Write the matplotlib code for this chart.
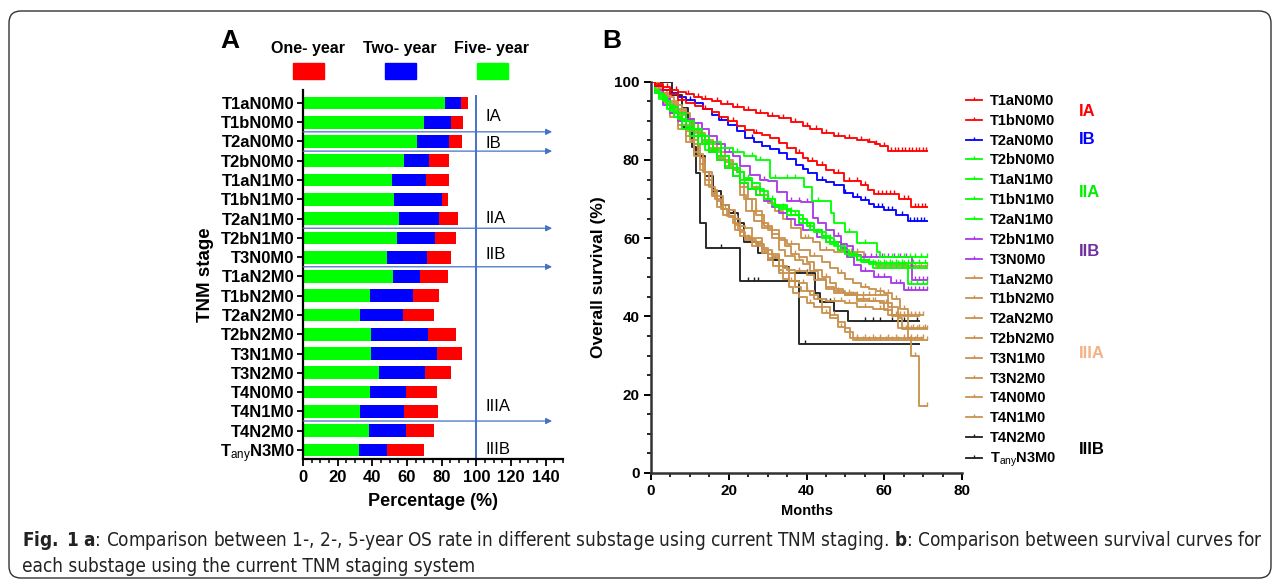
import numpy as np
import matplotlib
matplotlib.use("Agg")
import matplotlib.pyplot as plt
from matplotlib.path import Path
from matplotlib.lines import Line2D
from matplotlib.patches import Rectangle, FancyBboxPatch

plt.rcParams['font.family'] = ['Liberation Sans', 'DejaVu Sans']
plt.rcParams['mathtext.fontset'] = 'custom'
plt.rcParams['mathtext.rm'] = 'Liberation Sans'
plt.rcParams['mathtext.it'] = 'Liberation Sans:italic'
plt.rcParams['mathtext.bf'] = 'Liberation Sans:bold'
plt.rcParams['mathtext.sf'] = 'DejaVu Sans:weight=bold:stretch=condensed'

# ---------------- panel A data (percent) ----------------
stages = ['T1aN0M0', 'T1bN0M0', 'T2aN0M0', 'T2bN0M0', 'T1aN1M0', 'T1bN1M0', 'T2aN1M0',
          'T2bN1M0', 'T3N0M0', 'T1aN2M0', 'T1bN2M0', 'T2aN2M0', 'T2bN2M0', 'T3N1M0',
          'T3N2M0', 'T4N0M0', 'T4N1M0', 'T4N2M0', r'$\mathbf{T}_{\mathrm{any}}\mathbf{N3M0}$']
one_year = [95.4, 92.1, 91.7, 84.4, 84.2, 83.8, 89.2, 88.0, 85.4, 83.8,
            78.6, 75.3, 88.4, 91.5, 85.2, 77.5, 77.8, 75.5, 69.9]
two_year = [91.1, 85.4, 84.4, 72.8, 71.1, 80.2, 78.6, 76.1, 71.5, 67.4,
            63.2, 57.6, 71.9, 77.3, 70.5, 59.2, 58.0, 59.2, 48.7]
five_year = [81.9, 70.0, 65.9, 58.0, 51.3, 52.4, 55.1, 54.1, 48.4, 52.0,
             38.9, 33.1, 39.1, 39.1, 44.1, 38.7, 33.1, 38.2, 32.4]
stage_groups = ['IA', 'IB', 'IIA', 'IIB', 'IIIA', 'IIIB']
group_rows = [0.71, 2.09, 6.02, 7.88, 15.75, 18.0]
group_breaks = [1, 2, 6, 8, 16]   # arrows drawn after these rows

# ---------------- panel B data: KM steps (months, % survival) ----------------
T1aN0M0_t = [1, 3, 5, 7, 9, 11, 13, 15.7, 18, 21, 24, 27, 30, 33, 36, 39, 41, 44, 47, 50, 53, 55.7, 57.5, 59, 61]
T1aN0M0_s = [99.5, 98.7, 98, 97.4, 96.8, 96.2, 95.6, 95, 94.3, 93.5, 92.8, 92, 91.3, 90.7, 89.8, 88.6, 87.8, 86.8, 86, 85.6, 85.2, 84.7, 84.1, 83.5, 82.3]
T1aN0M0_c = [4, 6.5, 9.5, 12, 14, 17, 19.5, 22, 25, 28, 31, 34, 37, 40, 42.5, 45, 48, 51, 54, 56, 58, 60, 61.8, 62.7,
             63.6, 64.5, 65.4, 66.3, 67.2, 68.1, 69, 69.9, 70.8]

T1bN0M0_t = [1, 3, 5, 7, 9, 11.4, 13.5, 15.7, 17.5, 19.9, 22, 24.3, 26.5, 28.6, 30.5, 32.8, 35, 37.2, 39, 40.5, 42.8, 45, 47, 49.6, 54, 55.7, 57.3, 63.7, 66.8]
T1bN0M0_s = [99, 98, 96.8, 95.4, 94.5, 93.7, 93, 92.3, 91, 89.9, 88.8, 87.7, 87, 86.4, 85.5, 84.3, 83, 81.8, 80.6, 79.8, 78.6, 77.5, 76.6, 74.5, 73.7, 72.4, 71.4, 70.1, 68.1]
T1bN0M0_c = [8, 14, 21, 27, 33, 38, 41.5, 44, 48, 51, 53, 55, 58.5, 59.5, 60.5, 61.5, 62.5, 65, 66, 67.9, 68.8, 69.7, 70.6]

T2aN0M0_t = [1, 3, 5, 7, 9, 11.4, 13.5, 15.7, 17.5, 19.9, 22, 24.3, 26.5, 28.6, 30.5, 32.8, 35, 37.2, 39, 40.5, 42.8, 45, 47, 49.6, 52, 54, 56, 57.3, 60, 63, 66]
T2aN0M0_s = [99, 98, 97, 96, 95.3, 94.5, 93, 91.6, 90.3, 89, 87.3, 85.6, 84.5, 83.5, 82.7, 81.8, 80.3, 78.8, 77.6, 76.6, 74.9, 74.3, 73.7, 71.5, 70.5, 69.8, 68.7, 68.1, 67.3, 66, 64.3]
T2aN0M0_c = [10, 18, 26, 33, 39, 44, 50, 53, 55, 58.5, 59.5, 61, 62, 64.5, 66.7, 67.6, 68.5, 69.4, 70.3]

T2bN0M0_t = [1, 2, 3.5, 5, 7, 9, 11, 13, 15, 18, 21, 24, 27, 30.7, 39.3, 41.5, 46.2, 47, 50, 53, 58.2, 59]
T2bN0M0_s = [98, 96.5, 95, 93.5, 92, 90, 88, 86, 84.5, 83, 82, 81, 80, 75.4, 73.2, 69.4, 66.4, 63.9, 61.7, 58.7, 56.6, 55.3]
T2bN0M0_c = [12, 22, 26, 28, 32, 35, 37, 43, 51, 55, 60, 62, 63.5, 65, 66.5, 68, 69.5, 71]

T1aN1M0_t = [1, 2, 4, 6, 8, 10, 12, 14, 16, 18, 20, 22, 24, 26, 28, 30, 32, 35, 38, 40, 42, 44, 46, 48, 50, 53, 56]
T1aN1M0_s = [98, 96, 94, 92, 90, 88, 86.5, 84.5, 82.5, 81, 79, 77, 75.5, 74, 72, 70, 68.5, 67, 65, 63, 62, 60.5, 58.5, 57, 56, 54.5, 53.6]
T1aN1M0_c = [9, 17, 25, 31, 36, 41, 47, 52, 57, 58.5, 60, 61.5, 63, 64.5, 66, 67.5, 69, 70.5]

T1bN1M0_t = [1, 3, 5, 7, 9, 11, 13, 15, 17, 19, 21, 23, 25, 27, 29, 31, 33, 36, 39, 42, 45, 48, 51, 54, 57]
T1bN1M0_s = [97, 95, 92.5, 90.5, 88.5, 86, 84, 82, 80, 78, 76, 74, 72.5, 71, 70, 68.5, 67.5, 66, 64, 61.5, 59, 57, 55.5, 54, 52.4]
T1bN1M0_c = [14, 24, 30, 37, 43, 49, 53, 56, 58.5, 60, 61.5, 63, 64.5, 66, 67.5, 69, 70.5]

T2aN1M0_t = [1, 2, 4, 6, 8, 10, 12, 14, 17, 20, 23, 26, 29, 32, 35, 38, 41, 44, 47, 50, 53, 56, 66]
T2aN1M0_s = [97.5, 95.5, 93, 91, 88, 86, 84, 82.5, 81, 78, 75, 72.5, 70, 68, 66, 64, 62, 60, 58, 56, 54.5, 53.5, 48.3]
T2aN1M0_c = [16, 27, 34, 40, 46, 52, 57.5, 59, 60.5, 62, 63.5, 65, 67, 68.5, 70, 71]

T2bN1M0_t = [1, 3, 5, 7, 9, 11, 13, 15, 17, 19, 21, 23, 25.5, 28, 30, 32.4, 35, 38.5, 41.7, 43, 45, 47, 49, 50.5, 52, 54, 67.1]
T2bN1M0_s = [98, 95.5, 93.5, 92, 90.5, 89.5, 88, 86, 84, 82, 80.9, 78.5, 76.2, 75, 74.5, 71.9, 69.4, 69.2, 65.2, 63.9, 62, 60.5, 58.5, 57.9, 55.7, 55.3, 49.4]
T2bN1M0_c = [20, 29, 36, 38, 40, 48, 55, 56.5, 58, 59.5, 61, 62.5, 64, 65.5, 68, 69, 70, 71]

T3N0M0_t = [1, 3, 5, 7, 9, 11, 13, 15, 17, 19, 21, 23, 25, 27, 29, 31, 33, 35, 37, 39, 42.8, 45, 48.8, 50.5, 52.2, 54, 57.3, 61.7, 65]
T3N0M0_s = [97, 94, 92, 90, 88, 86, 84, 82, 80, 78, 76, 74, 72.5, 71, 69.5, 68, 66.5, 65, 63.5, 62, 60.4, 59, 57.5, 55.3, 53.2, 51.5, 50, 48.5, 46.8]
T3N0M0_c = [24, 38, 44, 47, 55, 58.5, 60, 63, 64, 66, 67, 68, 69, 70, 71]

T1aN2M0_t = [2, 4, 6, 8, 10, 12, 14, 16, 18, 20, 22, 24, 26, 28, 30, 32, 34, 36, 38.5, 41.7, 43.6, 47, 54.7, 58]
T1aN2M0_s = [98, 96, 94, 92, 89.5, 87, 85, 83, 81, 79, 77, 75, 73, 71, 69, 67, 65, 62.5, 60, 59, 57, 56.5, 54, 52.8]
T1aN2M0_c = [25, 33, 39.5, 40.5, 45, 48.5, 50, 51.5, 53, 59, 60.5, 62, 63.5, 65, 66.5, 68, 69.5, 71]

T1bN2M0_t = [1, 3, 5, 7, 9, 11, 13, 15, 17, 19, 21, 23, 24, 26, 28.6, 30, 32.8, 34.5, 36, 38, 40, 42, 44, 46, 47.5, 49.5, 53, 60, 62]
T1bN2M0_s = [99, 97, 95, 93, 90.5, 88, 86, 84, 82, 80, 78, 74, 70, 67, 64, 62, 60, 58, 56, 55.3, 54, 52, 50, 48.5, 47, 46, 44, 41.7, 40.4]
T1bN2M0_c = [27, 37, 45, 51, 54.5, 56, 57.5, 63, 64, 65, 66, 67, 68, 69, 70]

T2aN2M0_t = [1, 3, 5, 7, 9, 11, 13, 15, 17, 19, 21, 23, 24.5, 26.5, 28.6, 31, 32.8, 34.5, 37, 39, 41, 43, 45, 47, 50, 61, 63.5, 64.5]
T2aN2M0_s = [98, 96, 94, 91.5, 89, 87, 84.5, 82.5, 80.5, 78.5, 76, 71, 67, 64.5, 62.5, 60, 57, 55.5, 54.5, 53.5, 51.5, 49.5, 47.5, 46.5, 45.5, 42.5, 39.6, 36.8]
T2aN2M0_c = [30, 38, 48, 51.5, 53, 54.5, 56, 57.5, 59, 65.5, 67, 68.5, 70, 71]

T2bN2M0_t = [1, 3, 5, 7, 9, 11, 12.5, 14, 15.7, 17, 18.5, 20, 21.5, 23, 24.3, 26, 28.6, 30, 31.5, 32.8, 34, 35.4, 36.5, 38, 40, 42, 44, 46, 48, 50, 52]
T2bN2M0_s = [98, 95, 92, 89, 86, 82, 79, 75, 71.5, 69.5, 67.5, 65.5, 63.5, 61.5, 59.6, 58, 56.2, 54.5, 53, 51.1, 49.5, 47.6, 46, 45, 43.5, 42.5, 41, 39.5, 37.4, 36, 34]
T2bN2M0_c = [19, 27, 33, 41, 45, 49, 53, 54.5, 56, 57.5, 59, 60.5, 62, 63.5, 65, 66.5, 68, 69.5, 71]

T3N1M0_t = [1, 3, 5, 7, 9, 11, 12.5, 14, 15.7, 17, 18.5, 20, 21.5, 23, 24.3, 26, 28.6, 30, 32.8, 34, 35.4, 37, 38, 40, 42, 44, 46, 48, 50, 51.3, 67, 69]
T3N1M0_s = [99, 96, 93, 90.5, 87.5, 84, 80.5, 77, 72.4, 70.7, 68.5, 67.3, 65, 63, 62.7, 60, 57.5, 56, 54.5, 52.5, 51, 49, 48.5, 46.5, 44.5, 42.5, 40.5, 38.5, 37, 34.5, 30, 17]
T3N1M0_c = [22, 31, 39, 43, 47, 53, 55, 57, 59, 61, 63, 65, 68, 71]

T3N2M0_t = [1, 3, 5, 7, 9, 11, 13, 15, 17, 19, 21, 23, 25, 27, 29, 31, 33, 35, 38, 41, 44, 46, 48, 50, 52, 54, 56, 58, 60, 62, 64, 66]
T3N2M0_s = [98.5, 96.5, 94.5, 92.5, 90, 87.5, 85, 83, 81, 79.5, 77.5, 73, 70, 66, 63, 61, 59.5, 58.5, 57, 55.5, 54, 52.5, 51, 49.5, 48.5, 47.5, 47, 46.5, 46, 44.5, 42, 40.2]
T3N2M0_c = [30, 36, 42, 49, 55, 59, 61, 63, 65, 67, 68, 69]

T4N0M0_t = [1, 3, 5, 7, 9, 11, 12.5, 14, 15.7, 17, 18.5, 20, 21.5, 23, 24.3, 26, 28.6, 30, 32.8, 34, 35.4, 37, 38.5, 41, 43, 45, 50, 53, 57, 61, 63.5]
T4N0M0_s = [97.5, 94.5, 91, 88, 84.5, 81, 77.5, 73.5, 70.7, 68, 66, 65.6, 62, 60.5, 60, 59, 56.5, 55, 52, 51, 49, 47.6, 46.5, 45.5, 44.5, 44, 43.4, 42.5, 42, 40.4, 37]
T4N0M0_c = [16, 25, 29, 36, 40, 47, 49, 51, 55, 59, 64.5, 66, 67.5, 69, 70.5]

T4N1M0_t = [2, 4, 6, 8, 10, 12, 13.5, 15, 16.5, 18, 19.5, 21, 22.5, 24, 25.5, 27, 29, 31, 33, 35, 37, 40, 42, 45, 47, 50, 53, 56, 59, 62, 66]
T4N1M0_s = [97, 94, 91, 88, 85, 81.5, 77, 73, 70, 67.5, 65.8, 64, 62, 60.5, 59.5, 58.5, 57, 55.5, 53, 52, 51.5, 50.5, 49.3, 47, 46, 45.5, 44.5, 44, 43.4, 40, 34.5]
T4N1M0_c = [11, 20, 28, 34, 38, 43, 48, 51, 52, 54.5, 57, 60.5, 63.5, 67, 68.5, 70]

T4N2M0_t = [2, 4, 6, 8, 10, 12, 14, 16, 18, 20, 22.5, 24, 27.6, 30, 34, 35.4, 42.3, 43.5, 47, 50.8]
T4N2M0_s = [97, 94, 91, 88.5, 86, 81, 76, 72, 68.5, 66.5, 63.9, 59, 56.2, 54.5, 52.7, 51, 46, 43.8, 41.5, 38.9]
T4N2M0_c = [7, 9, 15, 21, 26, 31, 32, 38, 40, 45, 46, 55, 57, 59, 62, 65, 68.5]

TanyN3M0_t = [5.3, 8, 9.5, 10.5, 11.5, 12.5, 14.2, 23, 38]
TanyN3M0_s = [96.7, 93.3, 90, 83.3, 76.7, 64, 57.5, 49, 33]
TanyN3M0_c = [18, 25, 26.5, 27.5, 39.5]

curve_names = ['T1aN0M0', 'T1bN0M0', 'T2aN0M0', 'T2bN0M0', 'T1aN1M0', 'T1bN1M0', 'T2aN1M0',
               'T2bN1M0', 'T3N0M0', 'T1aN2M0', 'T1bN2M0', 'T2aN2M0', 'T2bN2M0', 'T3N1M0',
               'T3N2M0', 'T4N0M0', 'T4N1M0', 'T4N2M0', r'$\mathbf{T}_{\mathrm{any}}\mathbf{N3M0}$']
curve_t = [T1aN0M0_t, T1bN0M0_t, T2aN0M0_t, T2bN0M0_t, T1aN1M0_t, T1bN1M0_t, T2aN1M0_t, T2bN1M0_t,
           T3N0M0_t, T1aN2M0_t, T1bN2M0_t, T2aN2M0_t, T2bN2M0_t, T3N1M0_t, T3N2M0_t, T4N0M0_t,
           T4N1M0_t, T4N2M0_t, TanyN3M0_t]
curve_s = [T1aN0M0_s, T1bN0M0_s, T2aN0M0_s, T2bN0M0_s, T1aN1M0_s, T1bN1M0_s, T2aN1M0_s, T2bN1M0_s,
           T3N0M0_s, T1aN2M0_s, T1bN2M0_s, T2aN2M0_s, T2bN2M0_s, T3N1M0_s, T3N2M0_s, T4N0M0_s,
           T4N1M0_s, T4N2M0_s, TanyN3M0_s]
curve_c = [T1aN0M0_c, T1bN0M0_c, T2aN0M0_c, T2bN0M0_c, T1aN1M0_c, T1bN1M0_c, T2aN1M0_c, T2bN1M0_c,
           T3N0M0_c, T1aN2M0_c, T1bN2M0_c, T2aN2M0_c, T2bN2M0_c, T3N1M0_c, T3N2M0_c, T4N0M0_c,
           T4N1M0_c, T4N2M0_c, TanyN3M0_c]
curve_end = [71, 71, 71, 71, 71, 71, 71, 71, 71, 71, 70, 71, 71, 71, 69, 71, 70, 69, 69]

RED, BLUE, GREEN, PURPLE, BROWN, BLACK = '#ff0000', '#0000ff', '#00ff00', '#a938e8', '#c9924f', '#1e1e1e'
curve_col = [RED, RED, BLUE, GREEN, GREEN, GREEN, GREEN, PURPLE, PURPLE] + [BROWN] * 8 + [BLACK, BLACK]
group_col = ['#ff0000', '#0000ff', '#00ee00', '#7030a0', '#f4b183', '#000000']
group_rows_b = [112, 140, 193, 252, 353, 450]   # pixel rows of the stage labels beside legend

W, H = 1281, 584
fig = plt.figure(figsize=(W / 100, H / 100), dpi=100)


def fx(px):
    return px / W


def fy(py):
    return 1 - py / H


# frame around the whole figure
fig.add_artist(FancyBboxPatch((9, 6), 1262, 567, boxstyle='round,pad=0,rounding_size=12',
                              transform=None, fc='none', ec='#333333', lw=1.0))

# ---------------- panel A ----------------
ax1 = fig.add_axes([fx(303), fy(459), 260 / W, (459 - 90) / H])
y = np.arange(len(stages))
bh = 0.66
ax1.barh(y, five_year, height=bh, color=GREEN)
ax1.barh(y, np.subtract(two_year, five_year), left=five_year, height=bh, color=BLUE)
ax1.barh(y, np.subtract(one_year, two_year), left=two_year, height=bh, color=RED)
ax1.set_xlim(0, 150)
ax1.set_ylim(18.47, -0.67)
ax1.set_yticks(y)
ax1.set_yticklabels(stages, fontsize=12, fontweight='bold')
ax1.set_xticks(np.arange(0, 141, 20))
ax1.set_xticks(np.arange(0, 151, 5), minor=True)
ax1.tick_params(axis='x', labelsize=12, width=1.3, length=5, pad=3)
ax1.tick_params(axis='x', which='minor', width=1.1, length=3)
ax1.tick_params(axis='y', width=1.3, length=4, pad=2)
for lab in ax1.get_xticklabels():
    lab.set_fontweight('bold')
for side in ['top', 'right']:
    ax1.spines[side].set_visible(False)
for side in ['left', 'bottom']:
    ax1.spines[side].set_linewidth(1.6)
ax1.set_xlabel('Percentage (%)', fontsize=13, fontweight='bold', labelpad=6)
ax1.set_ylabel('TNM stage', fontsize=13.5, fontweight='bold', labelpad=4)

ARROW = '#4472c4'
ax1.axvline(100, ymin=0, ymax=0.985, color=ARROW, lw=1.4)
for b in group_breaks:
    ax1.annotate('', xy=(143.7, b + 0.5), xytext=(0, b + 0.5),
                 arrowprops=dict(arrowstyle='-|>', color=ARROW, lw=0.9, mutation_scale=9,
                                 shrinkA=0, shrinkB=0))
for g, r in zip(stage_groups, group_rows):
    ax1.text(105.3, r, g, fontsize=12, va='center', ha='left')

fig.text(fx(230), fy(41), 'A', fontsize=19, fontweight='bold', ha='center', va='center')
fig.text(fx(612), fy(41), 'B', fontsize=19, fontweight='bold', ha='center', va='center')

for lab, cx, col in [('One- year', 308, RED), ('Two- year', 400, BLUE), ('Five- year', 492, GREEN)]:
    fig.text(fx(cx), fy(48), lab, fontsize=11.5, fontweight='bold', ha='center', va='center')
    fig.add_artist(Rectangle((fx(cx - 15.5), fy(79)), 31 / W, 16.3 / H,
                             transform=fig.transFigure, color=col))

# ---------------- panel B ----------------
ax2 = fig.add_axes([fx(651), fy(473), 311 / W, (473 - 81.7) / H])
tick = Path([(0, 0), (0, 1)])

for name, t, s, c, end, col in reversed(list(zip(curve_names, curve_t, curve_s, curve_c, curve_end, curve_col))):
    tt = np.concatenate([[0], t, [end]])
    ss = np.concatenate([[100], s, [s[-1]]])
    ax2.step(tt, ss, where='post', color=col, lw=1.4, alpha=0.95)
    c = np.asarray(c, dtype=float)
    c = c[c <= end]
    idx = np.searchsorted(tt, c, side='right') - 1
    ax2.plot(c, ss[idx], ls='none', marker=tick, ms=6, mew=1.0, color=col)

ax2.set_xlim(0, 80)
ax2.set_ylim(0, 100)
ax2.set_xticks(np.arange(0, 81, 20))
ax2.set_xticks(np.arange(0, 81, 5), minor=True)
ax2.set_yticks(np.arange(0, 101, 20))
ax2.set_yticks(np.arange(0, 101, 5), minor=True)
ax2.tick_params(which='major', labelsize=11, width=1.4, length=5, pad=3)
ax2.tick_params(which='minor', width=1.2, length=3)
for lab in ax2.get_xticklabels() + ax2.get_yticklabels():
    lab.set_fontweight('bold')
for side in ['top', 'right']:
    ax2.spines[side].set_visible(False)
for side in ['left', 'bottom']:
    ax2.spines[side].set_linewidth(1.8)
    ax2.spines[side].set_color('#333333')
ax2.set_xlabel('Months', fontsize=10.5, fontweight='bold', labelpad=4)
ax2.set_ylabel('Overall survival (%)', fontsize=12.5, fontweight='bold', labelpad=6)

handles = [Line2D([], [], color=col, lw=1.3, marker=tick, ms=5, mew=1.0) for col in curve_col]
ax2.legend(handles, curve_names, loc='upper left', bbox_to_anchor=(fx(966), fy(94)),
           bbox_transform=fig.transFigure, frameon=False, borderpad=0, borderaxespad=0,
           handlelength=1.1, handletextpad=0.55, labelspacing=0.40,
           prop={'size': 10.5, 'weight': 'bold'})
for g, r, col in zip(stage_groups, group_rows_b, group_col):
    fig.text(fx(1079), fy(r), g, fontsize=12, fontweight='bold', color=col, ha='left', va='center')

# ---------------- caption (sized to span the frame like the reference) ----------------
cap1 = (r'$\mathsf{Fig.\ 1\ a}$: Comparison between 1-, 2-, 5-year OS rate in different substage using '
        r'current TNM staging. $\mathsf{b}$: Comparison between survival curves for')
cap2 = 'each substage using the current TNM staging system'
cap_font = dict(family=['DejaVu Sans'], fontstretch='condensed', color='#222222', ha='left', va='center')
renderer = fig.canvas.get_renderer()
c1 = fig.text(fx(22), fy(541), cap1, fontsize=13, **cap_font)
c2 = fig.text(fx(22), fy(566), cap2, fontsize=13, **cap_font)
fit = 13 * 1240 / c1.get_window_extent(renderer).width
c1.set_fontsize(fit)
c2.set_fontsize(fit)

fig.savefig('out.png', dpi=100)
